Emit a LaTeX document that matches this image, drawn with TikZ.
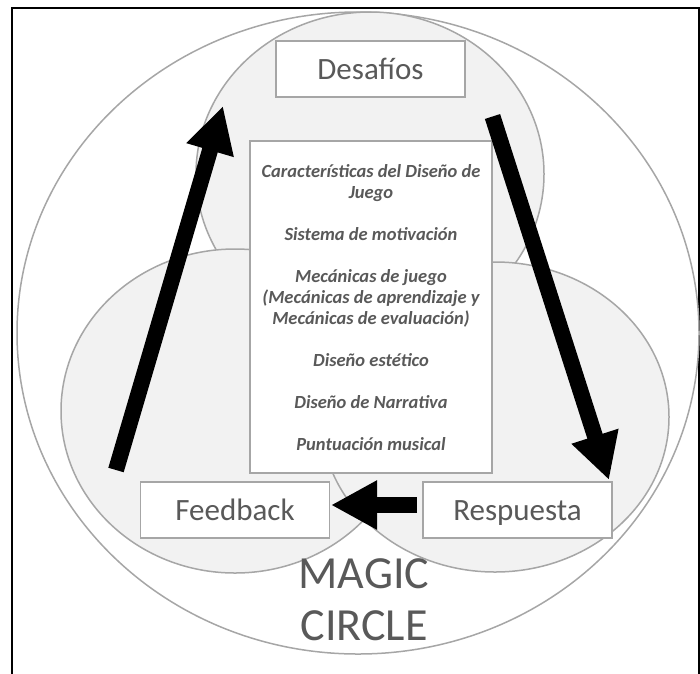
\documentclass[tikz,border=0pt]{standalone}
\usepackage{fontspec}
\setmainfont{Carlito}
\usetikzlibrary{arrows.meta}
\definecolor{ringgray}{HTML}{A6A6A6}
\definecolor{fillgray}{HTML}{F2F2F2}
\definecolor{txtgray}{HTML}{595959}
\tikzset{
  ring/.style={draw=ringgray, line width=1.5pt},
  lobe/.style={ring, fill=fillgray},
  labelbox/.style={draw=ringgray, line width=1.5pt, fill=white, minimum width=189pt, minimum height=56pt,
    inner sep=0pt, text height=20pt, text depth=0pt, text=txtgray, font=\fontsize{31}{37}\selectfont},
  itemtext/.style={anchor=base, text=txtgray, inner sep=0pt, font=\bfseries\itshape\fontsize{18.5}{21}\selectfont},
  bigtext/.style={anchor=base, text=txtgray, inner sep=0pt, font=\fontsize{46}{52}\selectfont},
  blockarrow/.style={line width=16pt, -{Triangle[length=46pt,width=46pt]}}
}
\begin{document}
\begin{tikzpicture}[x=1pt,y=-1pt]
\useasboundingbox (0,0) rectangle (700,673);
% frame
\draw[line width=2pt, black] (12,700) -- (12,8) -- (699,8) -- (699,700);
% magic circle
\draw[ring, fill=white] (358,333) ellipse [x radius=341, y radius=321];
% three lobes
\draw[lobe] (370,174) ellipse [x radius=174, y radius=162];
\draw[lobe] (235,411) ellipse [x radius=174, y radius=162];
\draw[lobe] (495,417) ellipse [x radius=174, y radius=155];
% centre box
\node[draw=ringgray, line width=1.5pt, fill=white, minimum width=242pt, minimum height=332pt, inner sep=0pt] (center) at (371,307) {};
\node[itemtext] (t1) at (371,177) {Características del Diseño de};
\node[itemtext] (t2) at (371,198) {Juego};
\node[itemtext] (t3) at (371,240) {Sistema de motivación};
\node[itemtext] (t4) at (371,282) {Mecánicas de juego};
\node[itemtext] (t5) at (371,303) {(Mecánicas de aprendizaje y};
\node[itemtext] (t6) at (371,324) {Mecánicas de evaluación)};
\node[itemtext] (t7) at (371,366) {Diseño estético};
\node[itemtext] (t8) at (371,408) {Diseño de Narrativa};
\node[itemtext] (t9) at (371,450) {Puntuación musical};
% label boxes
\node[labelbox] (des) at (370.5,69) {Desafíos};
\node[labelbox] (fee) at (235,510) {Feedback};
\node[labelbox] (res) at (517.5,510) {Respuesta};
% arrows
\coordinate (lTail) at (116,470);
\coordinate (lTip) at (223,106);
\coordinate (rTail) at (492.5,116.5);
\coordinate (rTip) at (609,480);
\coordinate (bTail) at (417,505);
\coordinate (bTip) at (331,505);
\draw[blockarrow] (lTail) -- (lTip);
\draw[blockarrow] (rTail) -- (rTip);
\draw[blockarrow] (bTail) -- (bTip);
% magic circle label
\node[bigtext] (m1) at (364,588) {MAGIC};
\node[bigtext] (m2) at (364,640) {CIRCLE};
\end{tikzpicture}
\end{document}
